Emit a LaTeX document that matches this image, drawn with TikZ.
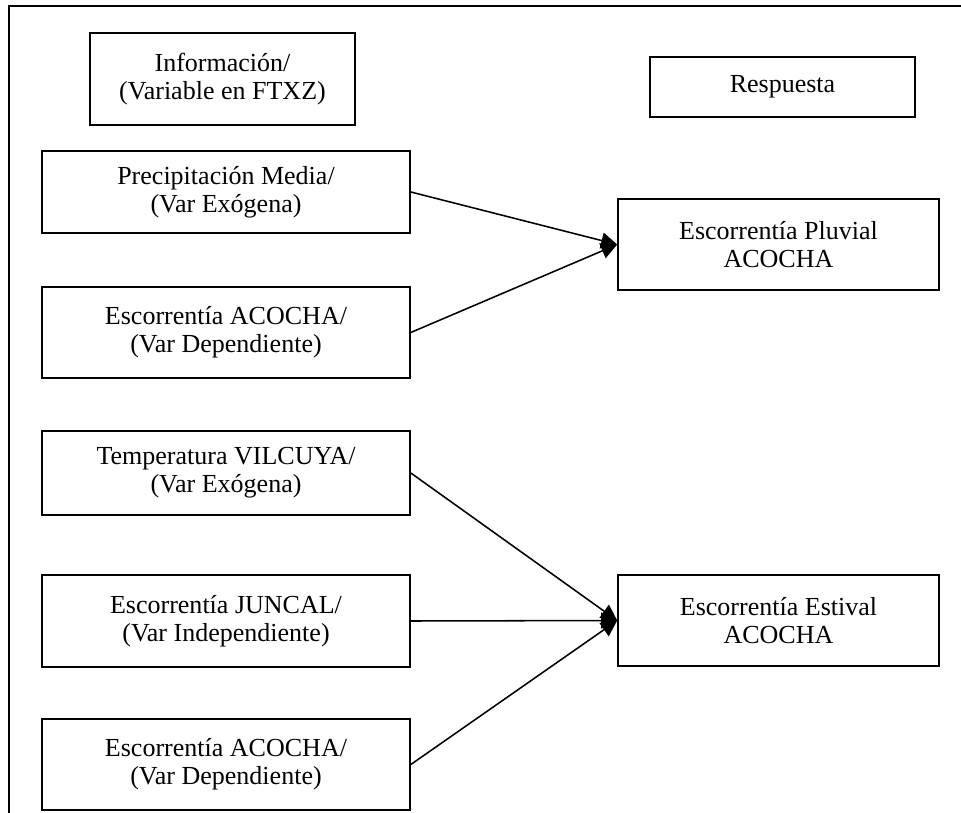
\documentclass[tikz,border=0pt]{standalone}
\usepackage{fontspec}
\setmainfont{Liberation Serif}
\usetikzlibrary{arrows.meta}

\begin{document}
\begin{tikzpicture}[x=0.025cm,y=-0.025cm,
    caja/.style 2 args={draw,line width=1.1pt,align=center,inner sep=0pt,
      minimum width=#1,minimum height=#2,font=\fontsize{18.5}{20}\selectfont},
    flecha/.style={line width=1.1pt,-{Triangle[length=0.4cm,width=0.4cm]}}]
    \useasboundingbox (0,0) rectangle (961,813);
    \draw[line width=1.1pt] (9,813) -- (9,6) -- (961,6);
    % encabezados
    \node[caja={6.625cm}{2.3cm}] (info) at (222.5,79) {Información/\\(Variable en FTXZ)};
    \node[caja={6.625cm}{1.5cm}] (resp) at (782.5,87) {Respuesta};
    % primer modelo
    \node[caja={9.2cm}{2.05cm}] (prec) at (226,192) {Precipitación Media/\\(Var Exógena)};
    \node[caja={9.2cm}{2.275cm}] (acocha1) at (226,332.5) {Escorrentía ACOCHA/\\(Var Dependiente)};
    \node[caja={8.025cm}{2.275cm}] (pluv) at (778.5,244.5) {Escorrentía Pluvial\\ACOCHA};
    \draw[flecha] (prec.east) -- (pluv.west);
    \draw[flecha] (acocha1.east) -- (pluv.west);
    % segundo modelo
    \node[caja={9.2cm}{2.1cm}] (temp) at (226,473) {Temperatura VILCUYA/\\(Var Exógena)};
    \node[caja={9.2cm}{2.3cm}] (juncal) at (226,621) {Escorrentía JUNCAL/\\(Var Independiente)};
    \node[caja={9.2cm}{2.275cm}] (acocha2) at (226,764.5) {Escorrentía ACOCHA/\\(Var Dependiente)};
    \node[caja={8.025cm}{2.275cm}] (estiv) at (778.5,620.5) {Escorrentía Estival\\ACOCHA};
    \draw[flecha] (temp.east) -- (estiv.west);
    \draw[flecha] (juncal.east) -- (estiv.west);
    \draw[flecha] (acocha2.east) -- (estiv.west);
  \end{tikzpicture}
\end{document}
